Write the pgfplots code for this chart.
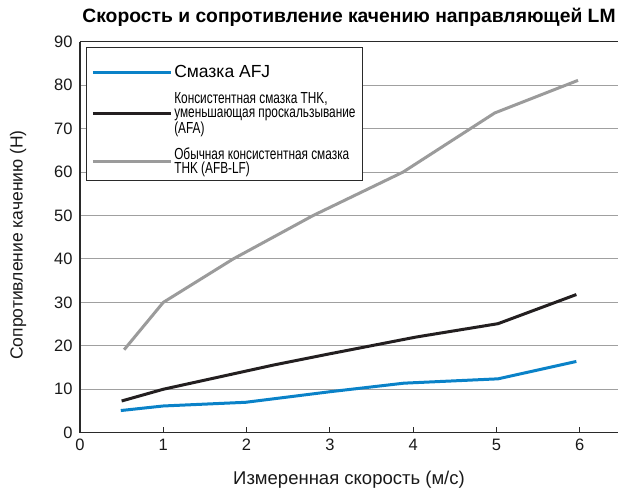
\documentclass[border=0pt]{standalone}
\usepackage{fontspec}
\setmainfont{Liberation Sans}
\newfontfamily\narrowfont[FakeStretch=0.74]{Liberation Sans}
\usepackage{pgfplots}
\pgfplotsset{compat=1.18}
\definecolor{cblue}{HTML}{0A82C8}
\definecolor{cblack}{HTML}{231F20}
\definecolor{cgray}{HTML}{9B9B9B}
\definecolor{cgrid}{HTML}{A0A0A0}
\definecolor{caxis}{HTML}{2A2A2A}
\begin{document}
\begin{tikzpicture}
\begin{axis}[
 scale only axis, width=538pt, height=391pt,
 xmin=0, xmax=6.46, ymin=0, ymax=90,
 axis x line*=bottom, axis y line*=left,
 axis line style={line width=1.2pt, color=caxis, -},
 xtick={0,...,6}, ytick={0,10,...,90},
 xtick align=inside, major tick length=6pt,
 xtick style={caxis, line width=0.9pt},
 ytick style={draw=none},
 ymajorgrids, grid style={cgrid, line width=0.9pt},
 /pgf/number format/assume math mode=true,
 ticklabel style={font=\fontsize{16.5}{16.5}\selectfont, text=black!90},
 xticklabel style={yshift=-3pt},
 yticklabel style={xshift=-4pt},
 title={\bfseries Скорость и сопротивление качению направляющей LM},
 title style={at={(axis description cs:0.5,1.047)}, anchor=center, font=\fontsize{19.3}{19.3}\selectfont},
 xlabel={Измеренная скорость (м/с)},
 ylabel={Сопротивление качению (Н)},
 label style={text=black!90},
 xlabel style={at={(axis description cs:0.5,-0.12)}, anchor=center, font=\fontsize{18.5}{18.5}\selectfont},
 ylabel style={at={(axis description cs:-0.115,0.48)}, anchor=center, font=\fontsize{17.5}{17.5}\selectfont},
 legend style={at={(axis description cs:0.015,0.945)}, anchor=north west,
   draw=none, fill=none, inner xsep=3pt, inner ysep=0pt,
   row sep=9pt, cells={anchor=west, align=left}},
 legend image code/.code={\draw[#1, line width=3pt] (0pt,0pt) -- (78pt,0pt);},
]
\draw[line width=1pt, caxis, fill=white] (axis description cs:0.013,0.646) rectangle (axis description cs:0.526,0.984);
\addplot[cblue, line width=3pt] coordinates {
 (0.49,5.1) (1.0,6.15) (1.99,7.0) (3.01,9.45) (3.89,11.4) (5.02,12.4) (5.96,16.4)};
\addlegendentry[font=\fontsize{17.5}{18}\selectfont]{Смазка AFJ}
\addplot[cblack, line width=3pt] coordinates {
 (0.5,7.3) (1.0,10.0) (2.33,15.6) (3.01,18.2) (4.03,22.0) (5.02,25.1) (5.96,31.8)};
\addlegendentry[font=\narrowfont\fontsize{16}{14}\selectfont]{Консистентная смазка THK,\\уменьшающая проскальзывание\\(AFA)}
\addplot[cgray, line width=3pt] coordinates {
 (0.53,19.1) (1.0,30.0) (1.84,40.0) (2.80,50.0) (3.88,60.0) (4.98,73.6) (5.98,81.1)};
\addlegendentry[font=\narrowfont\fontsize{16}{14}\selectfont]{Обычная консистентная смазка\\THK (AFB-LF)}
\draw[line width=1.2pt, caxis] (rel axis cs:0,1) -- (rel axis cs:1,1);
\end{axis}
\pgfresetboundingbox
\path[use as bounding box] (-80pt,-59.3pt) rectangle (538pt,432.7pt);
\end{tikzpicture}
\end{document}
